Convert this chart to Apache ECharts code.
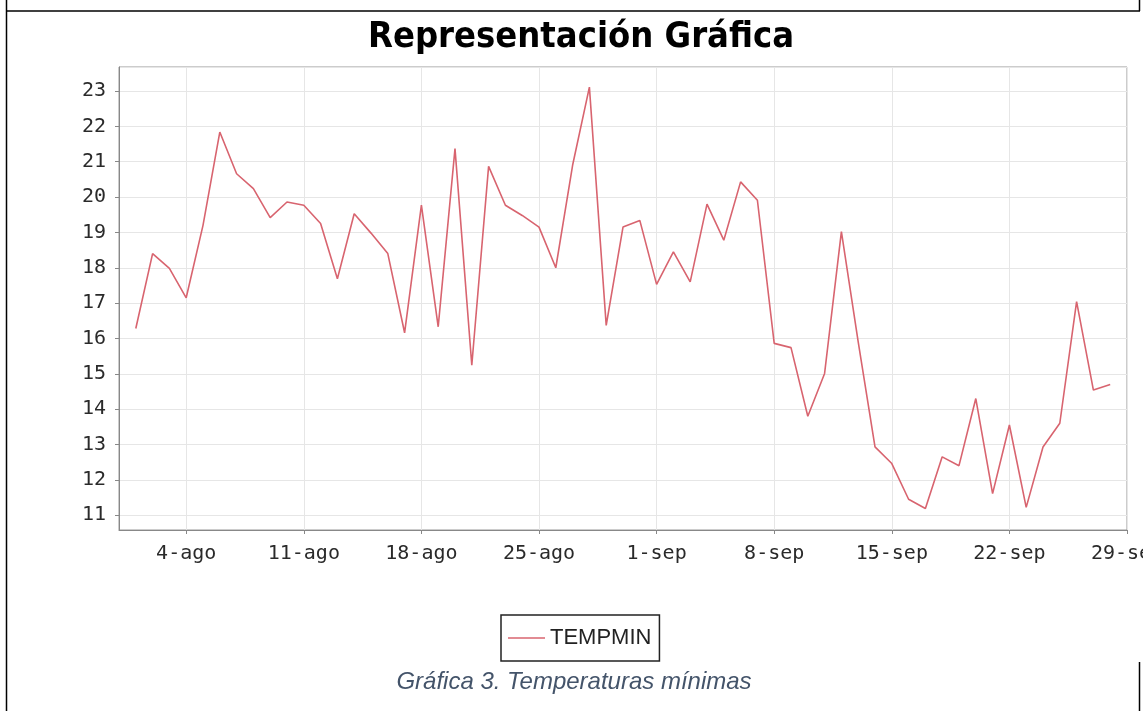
<!DOCTYPE html>
<html>
<head>
<meta charset="utf-8">
<title>Representación Gráfica</title>
<script src="https://cdn.jsdelivr.net/npm/echarts@6/dist/echarts.min.js"></script>
<style>
html, body { margin: 0; padding: 0; background: #fff; }
#main { width: 1143px; height: 711px; }
</style>
</head>
<body>
<div id="main"></div>
<script>
// eje x: un día por categoría, del 31-jul al 29-sep (margen de un día a cada lado)
var meses = ['ene', 'feb', 'mar', 'abr', 'may', 'jun', 'jul', 'ago', 'sep', 'oct', 'nov', 'dic']
var primerDia = Date.UTC(2011, 6, 31)
var numDias = 61
var etiquetasEje = ['4-ago', '11-ago', '18-ago', '25-ago', '1-sep', '8-sep', '15-sep', '22-sep', '29-sep']

// temperatura mínima diaria, 1-ago .. 28-sep
var tempMin = [
  16.28, 18.40, 17.98, 17.15, 19.2, 21.84, 20.66, 20.24, 19.42, 19.86,
  19.77, 19.25, 17.69, 19.53, 18.98, 18.4, 16.16, 19.77, 16.33, 21.37,
  15.24, 20.87, 19.77, 19.48, 19.15, 18.0, 20.9, 23.11, 16.37, 19.15,
  19.34, 17.53, 18.45, 17.6, 19.8, 18.78, 20.43, 19.91, 15.86, 15.74,
  13.8, 15.01, 19.02, 15.9, 12.93, 12.46, 11.45, 11.19, 12.65, 12.4,
  14.3, 11.61, 13.55, 11.22, 12.93, 13.6, 17.04, 14.54, 14.7
]

var categorias = []
for (var i = 0; i < numDias; i++) {
  var d = new Date(primerDia + i * 86400000)
  categorias.push(d.getUTCDate() + '-' + meses[d.getUTCMonth()])
}
// la serie empieza en el segundo día del eje
var serie = [null].concat(tempMin)
while (serie.length < numDias) serie.push(null)

function esMarca (index, value) {
  return etiquetasEje.indexOf(categorias[index]) >= 0
}

var myChart = echarts.init(document.getElementById('main'))
myChart.setOption({
  backgroundColor: '#fff',
  animation: false,
  grid: {
    left: 119,
    right: 16,
    top: 67,
    bottom: 181,
    containLabel: false,
    outerBoundsMode: 'none',
    show: true,
    borderColor: '#999',
    borderWidth: 1
  },
  legend: {
    left: 501,
    top: 615,
    data: ['TEMPMIN'],
    icon: 'rect',
    itemWidth: 37,
    itemHeight: 1.5,
    padding: [8, 8, 8, 7],
    borderColor: '#222',
    borderWidth: 1.5,
    backgroundColor: '#fff',
    textStyle: {
      fontFamily: '"Liberation Sans", Arial, sans-serif',
      fontSize: 22,
      lineHeight: 30,
      color: '#222'
    }
  },
  xAxis: {
    type: 'category',
    data: categorias,
    boundaryGap: false,
    axisLine: { lineStyle: { color: '#888', width: 1 } },
    axisTick: { show: true, length: 4, interval: esMarca, lineStyle: { color: '#888' } },
    axisLabel: {
      interval: esMarca,
      margin: 14,
      fontFamily: '"DejaVu Sans Mono", monospace',
      fontSize: 20,
      color: '#2a2a2a'
    },
    splitLine: { show: true, interval: esMarca, lineStyle: { color: '#e6e6e6', width: 1 } }
  },
  yAxis: {
    type: 'value',
    min: 10.58,
    max: 23.68,
    splitNumber: 13,
    axisLine: { show: true, lineStyle: { color: '#888', width: 1 } },
    axisTick: { show: true, length: 4, lineStyle: { color: '#888' } },
    axisLabel: {
      showMinLabel: false,
      showMaxLabel: false,
      margin: 13,
      fontFamily: '"DejaVu Sans Mono", monospace',
      fontSize: 20,
      color: '#2a2a2a',
      formatter: function (v) { return Number.isInteger(v) ? String(v) : '' }
    },
    splitLine: { show: true, lineStyle: { color: '#e6e6e6', width: 1 } }
  },
  series: [
    {
      name: 'TEMPMIN',
      type: 'line',
      data: serie,
      showSymbol: false,
      symbol: 'none',
      color: '#d8646f',
      lineStyle: { color: '#d8646f', width: 1.6 }
    }
  ],
  graphic: [
    { type: 'line', shape: { x1: 6.5, y1: 0, x2: 6.5, y2: 711 }, style: { stroke: '#000', lineWidth: 1.5 } },
    { type: 'line', shape: { x1: 6, y1: 11, x2: 1140, y2: 11 }, style: { stroke: '#000', lineWidth: 1.5 } },
    { type: 'line', shape: { x1: 1139.5, y1: 0, x2: 1139.5, y2: 11 }, style: { stroke: '#000', lineWidth: 1.5 } },
    { type: 'line', shape: { x1: 1139.5, y1: 662, x2: 1139.5, y2: 711 }, style: { stroke: '#000', lineWidth: 1.5 } },
    {
      type: 'text',
      x: 581,
      y: 38,
      style: {
        text: 'Representación Gráfica',
        font: 'bold 36px "DejaVu Sans Condensed", "DejaVu Sans", sans-serif',
        fill: '#000',
        align: 'center',
        verticalAlign: 'middle',
        textAlign: 'center',
        textVerticalAlign: 'middle'
      }
    },
    {
      type: 'text',
      x: 574,
      y: 682,
      style: {
        text: 'Gráfica 3. Temperaturas mínimas',
        font: 'italic 24px "Liberation Sans", Arial, sans-serif',
        fill: '#44546a',
        align: 'center',
        verticalAlign: 'middle',
        textAlign: 'center',
        textVerticalAlign: 'middle'
      }
    }
  ]
})
window.onresize = myChart.resize
</script>
</body>
</html>
